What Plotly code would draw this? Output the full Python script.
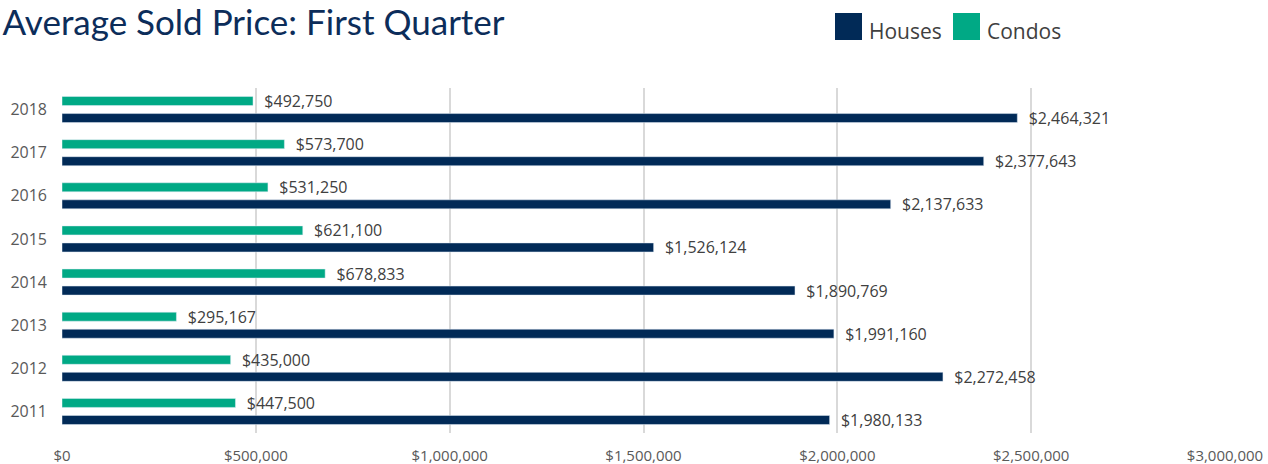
import plotly.graph_objects as go

years = ["2011", "2012", "2013", "2014", "2015", "2016", "2017", "2018"]
houses = [1980133, 2272458, 1991160, 1890769, 1526124, 2137633, 2377643, 2464321]
condos = [447500, 435000, 295167, 678833, 621100, 531250, 573700, 492750]
x_ticks = [0, 500000, 1000000, 1500000, 2000000, 2500000, 3000000]
x_tick_labels = ["$0", "$500,000", "$1,000,000", "$1,500,000", "$2,000,000", "$2,500,000", "$3,000,000"]

HOUSE_C = "#012A57"
CONDO_C = "#00A985"
W, H = 1268, 464
L, R, T, B = 62, 43, 88, 31
PW, PH = W - L - R, H - T - B

def px(x):
    return (x - L) / PW

def py(y):
    return (H - B - y) / PH

PAD = "\u00a0\u00a0"
label_font = dict(family="Open Sans", size=16, color="#404040")

fig = go.Figure()
fig.add_trace(go.Bar(
    y=years, x=houses, orientation="h", name="Houses",
    marker=dict(color=HOUSE_C),
    text=[f"{PAD}${v:,}" for v in houses], textposition="outside",
    textfont=label_font,
    constraintext="none", cliponaxis=False, showlegend=False,
))
fig.add_trace(go.Bar(
    y=years, x=condos, orientation="h", name="Condos",
    marker=dict(color=CONDO_C),
    text=[f"{PAD}${v:,}" for v in condos], textposition="outside",
    textfont=label_font,
    constraintext="none", cliponaxis=False, showlegend=False,
))

shapes = []
annotations = []
for x0, color, label in [(835, HOUSE_C, "Houses"), (953, CONDO_C, "Condos")]:
    shapes.append(dict(type="rect", xref="paper", yref="paper",
                       x0=px(x0), x1=px(x0 + 27), y0=py(40), y1=py(13),
                       fillcolor=color, line=dict(width=0)))
    annotations.append(dict(xref="paper", yref="paper", x=px(x0 + 32), y=py(31),
                            xanchor="left", yanchor="middle", showarrow=False,
                            text=label, font=dict(family="Open Sans", size=21, color="#404040")))

fig.update_layout(
    width=W, height=H,
    margin=dict(l=L, r=R, t=T, b=B, autoexpand=False),
    paper_bgcolor="white", plot_bgcolor="white",
    barmode="group", bargap=0.21, bargroupgap=0.47,
    title=dict(text="Average Sold Price: First Quarter", x=0.002, xanchor="left",
               xref="container", yref="container", y=1 - 23 / H, yanchor="middle",
               font=dict(family="Lato", size=35, color="#0C2D5A")),
    xaxis=dict(range=[0, 3000000], tickvals=x_ticks, ticktext=x_tick_labels,
               showgrid=True, gridcolor="#D9D9D9", gridwidth=2, zeroline=False,
               showline=False, ticks="", ticklabelstandoff=12,
               tickfont=dict(family="Open Sans", size=15, color="#595959"),
               automargin=False, fixedrange=True),
    yaxis=dict(showgrid=False, zeroline=False, showline=False, ticks="",
               ticklabelstandoff=14, categoryorder="array", categoryarray=years,
               tickfont=dict(family="Open Sans", size=16, color="#595959"),
               automargin=False),
    shapes=shapes, annotations=annotations,
)

fig.write_html("out.html", config={"displayModeBar": False},
               post_script="document.body.style.margin='0';document.body.style.overflow='hidden';")
